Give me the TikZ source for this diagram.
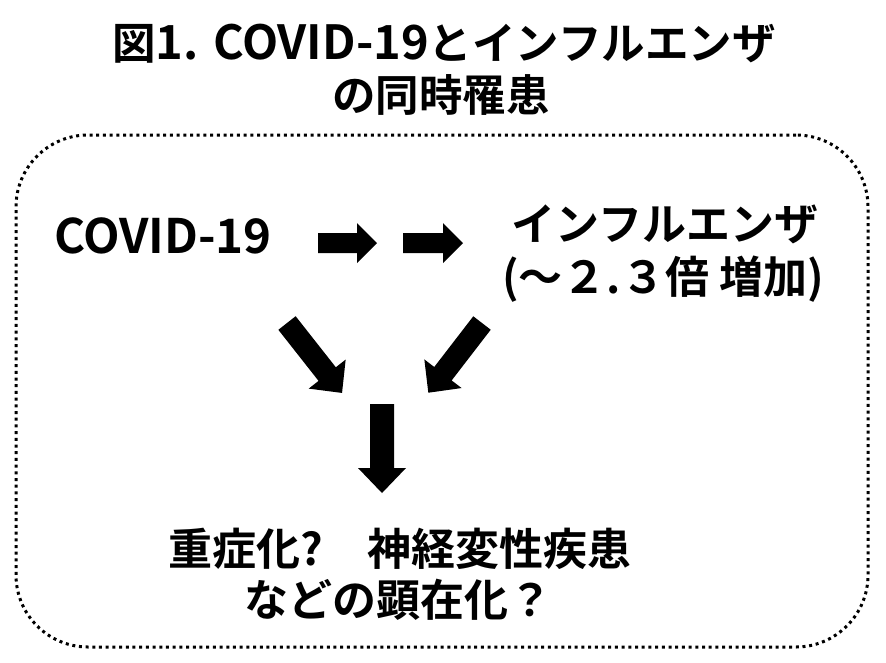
\documentclass[tikz,border=0pt]{standalone}
\usepackage{fontspec}
\newfontfamily\jp{Noto Sans CJK JP}[UprightFont=* Bold]
\newcommand\fsz[1]{\fontsize{#1}{#1}\selectfont}
% #1 name, #2 tail centre, #3 angle, #4 length, #5 shaft half width, #6 head half width, #7 head length
\newcommand\blockarrow[7]{%
  \fill[blk, shift={#2}, rotate=#3] (0,-#5) -- ({#4-#7},-#5) -- ({#4-#7},-#6) -- (#4,0)
    -- ({#4-#7},#6) -- ({#4-#7},#5) -- (0,#5) -- cycle;
  \coordinate[shift={#2}, rotate=#3] (#1) at (#4,0);}
\begin{document}
\begin{tikzpicture}[x=1pt,y=-1pt,
  txt/.style={inner sep=0pt, anchor=base, font=\jp},
  blk/.style={fill=black, draw=none},
  frame/.style={draw, line width=3pt, dash pattern=on 3pt off 3.7pt,
    rounded corners=72pt, inner sep=0pt}]
\useasboundingbox (0,0) rectangle (886,662);
\node[frame, minimum width=852pt, minimum height=512pt] (box) at (442,391) {};
% title
\node[txt] (t1) at (444,59) {\fsz{43.5}図{\fsz{47}1. COVID-19}とインフルエンザ};
\node[txt] (t2) at (441,111) {\fsz{43.5}の同時罹患};
% texts
\node[txt] (cov) at (163,253) {\fsz{47.5}COVID-19};
\node[txt] (flu) at (665,240) {\fsz{44}インフルエンザ};
\node[txt] (inc) at (663,293) {\fsz{44}(～２.３倍 増加)};
\node[txt] (q1) at (400,565) {\fsz{44}重症化?　神経変性疾患};
\node[txt] (q2) at (398,616) {\fsz{44}などの顕在化？};
% block arrows
\blockarrow{a1}{(318,243)}{0}{59}{10}{20}{20}
\blockarrow{a2}{(403,243)}{0}{60}{10}{20}{20}
\blockarrow{d1}{(287,323)}{-51.8}{89}{11}{23.5}{24}
\blockarrow{d2}{(482,323)}{-127.6}{88}{11}{23.5}{24}
\blockarrow{dn}{(382,404)}{-90}{89}{12}{24}{25}
\end{tikzpicture}
\end{document}
